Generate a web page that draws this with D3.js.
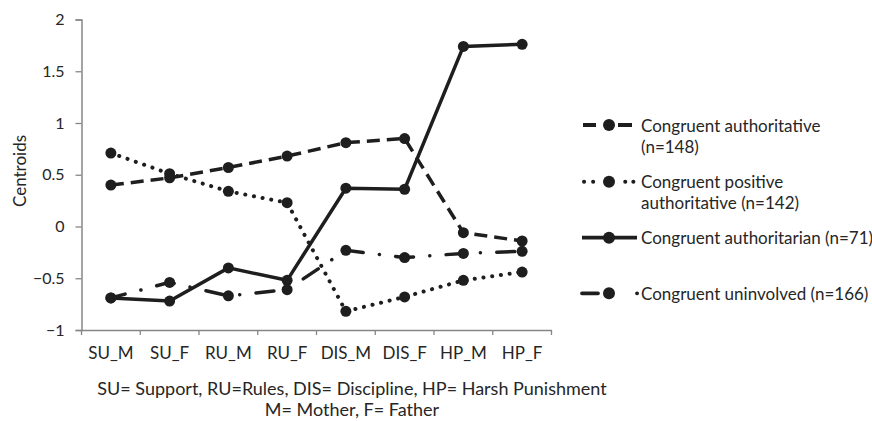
<!DOCTYPE html>
<html>
<head>
<meta charset="utf-8">
<script src="https://cdn.jsdelivr.net/npm/d3@7"></script>
<style>
  body { margin: 0; background: #fff; }
  text { font-family: Lato, "Open Sans", sans-serif; fill: #262626; }
</style>
</head>
<body>
<svg id="chart" width="872" height="421"></svg>
<script>
let categories = ["SU_M", "SU_F", "RU_M", "RU_F", "DIS_M", "DIS_F", "HP_M", "HP_F"];
let yTicks = [-1, -0.5, 0, 0.5, 1, 1.5, 2];

let authoritative = [0.40, 0.47, 0.57, 0.68, 0.81, 0.85, -0.06, -0.14];
let positiveAuthoritative = [0.71, 0.51, 0.34, 0.23, -0.82, -0.68, -0.52, -0.44];
let authoritarian = [-0.69, -0.72, -0.40, -0.52, 0.37, 0.36, 1.74, 1.76];
let uninvolved = [-0.69, -0.54, -0.67, -0.61, -0.23, -0.30, -0.26, -0.24];

let seriesNames = [
  ["Congruent authoritative", "(n=148)"],
  ["Congruent positive", "authoritative (n=142)"],
  ["Congruent authoritarian (n=71)"],
  ["Congruent uninvolved (n=166)"]
];

let ink = "#1e1e1e";

// line styles per series: dashed, dotted, solid, dash-dot
let dashes = ["13,7", "0.1,8.7", null, "18,16.3,0.1,16.3"];
let dashOffset = [0, 0, 0, 3.3];

let svg = d3.select("#chart");
let margin = {left: 81.5, top: 19.5},
    width = 470, height = 310.5;

let g = svg.append("g")
  .attr("transform", "translate(" + margin.left + "," + margin.top + ")");

let x = d3.scaleBand().domain(categories).range([0, width]);
let y = d3.scaleLinear().domain([-1, 2]).range([height, 0]);

// axes
let yAxis = g.append("g")
  .call(d3.axisLeft(y).tickValues(yTicks).tickSize(6).tickPadding(11).tickFormat(d3.format("")));
let xAxis = g.append("g")
  .attr("transform", "translate(0," + height + ")")
  .call(d3.axisBottom(x).tickSize(0));

// x axis ticks sit between the categories
xAxis.selectAll(".sep")
  .data(d3.range(categories.length + 1))
  .enter().append("line")
  .attr("x1", function(i) { return i * x.bandwidth(); })
  .attr("x2", function(i) { return i * x.bandwidth(); })
  .attr("y1", 0).attr("y2", 5)
  .attr("stroke", "#868686").attr("stroke-width", 1.3);

svg.selectAll(".domain").attr("stroke", "#868686").attr("stroke-width", 1.5);
yAxis.selectAll(".tick line").attr("stroke", "#868686").attr("stroke-width", 1.3);
yAxis.selectAll(".tick text").style("font-size", "16px").attr("fill", "#262626");
xAxis.selectAll(".tick text").style("font-size", "17px").attr("fill", "#262626")
  .attr("y", 29).attr("dy", 0);

// lines
let allSeries = [authoritative, positiveAuthoritative, authoritarian, uninvolved];
let line = d3.line()
  .x(function(d, i) { return x(categories[i]) + x.bandwidth() / 2; })
  .y(function(d) { return y(d); });

allSeries.forEach(function(data, k) {
  g.append("path")
    .datum(data)
    .attr("d", line)
    .attr("fill", "none")
    .attr("stroke", ink)
    .attr("stroke-width", k == 1 ? 4 : 3.5)
    .attr("stroke-linecap", k == 1 || k == 3 ? "round" : "butt")
    .attr("stroke-dasharray", dashes[k])
    .attr("stroke-dashoffset", dashOffset[k]);
  g.selectAll(".pt" + k)
    .data(data)
    .enter().append("circle")
    .attr("cx", function(d, i) { return x(categories[i]) + x.bandwidth() / 2; })
    .attr("cy", function(d) { return y(d); })
    .attr("r", 5.5)
    .attr("fill", ink);
});

// y label
svg.append("text")
  .attr("transform", "translate(26,171) rotate(-90)")
  .attr("text-anchor", "middle")
  .style("font-size", "17px")
  .text("Centroids");

// notes under the axis
svg.append("text").attr("x", 352).attr("y", 395).attr("text-anchor", "middle")
  .style("font-size", "18px")
  .text("SU= Support, RU=Rules, DIS= Discipline, HP= Harsh Punishment");
svg.append("text").attr("x", 352).attr("y", 416).attr("text-anchor", "middle")
  .style("font-size", "18px")
  .text("M= Mother, F= Father");

// legend
let legendY = [125, 181.7, 237.7, 293.3];
let legendLine = [[583, 632], [584, 636], [582, 637], [582, 640]];
let legendDash = ["13,22,14,50", "0.1,9,0.1,32,0.1,8,0.1,100", null, "16,39,0.1,100"];
seriesNames.forEach(function(lines, k) {
  let lg = svg.append("g").attr("transform", "translate(0," + legendY[k] + ")");
  lg.append("line")
    .attr("x1", legendLine[k][0]).attr("x2", legendLine[k][1]).attr("y1", 0).attr("y2", 0)
    .attr("stroke", ink).attr("stroke-width", k == 1 ? 4 : 3.8)
    .attr("stroke-linecap", k == 1 || k == 3 ? "round" : "butt")
    .attr("stroke-dasharray", legendDash[k]);
  lg.append("circle").attr("cx", 609).attr("cy", 0).attr("r", 6).attr("fill", ink);
  lines.forEach(function(t, j) {
    lg.append("text")
      .attr("x", 641).attr("y", j * 21 + 6.5)
      .style("font-size", "17px")
      .text(t);
  });
});
</script>
</body>
</html>
